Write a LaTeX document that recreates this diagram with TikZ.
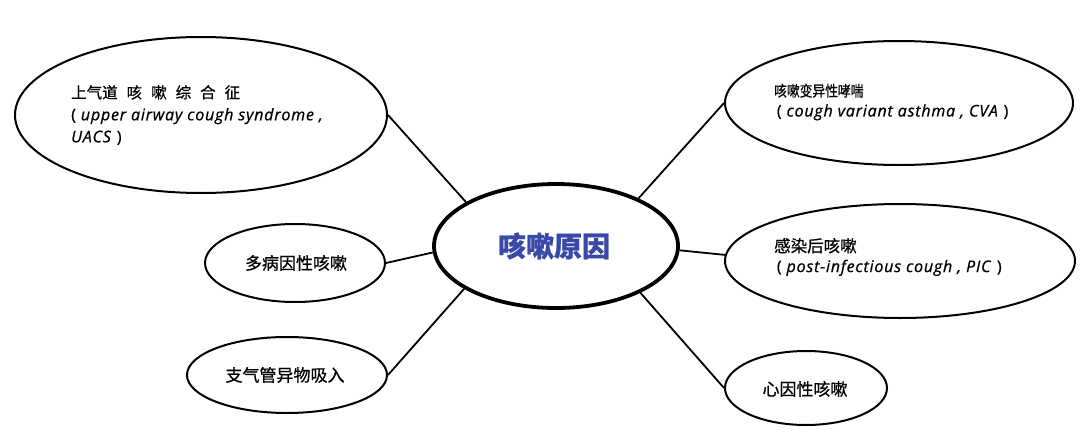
\documentclass[tikz,border=0pt]{standalone}
\usepackage{fontspec}
\usetikzlibrary{shapes.geometric}
\setmainfont{Noto Sans CJK SC}
\newfontfamily\cjk[FakeBold=0.8]{Noto Sans CJK SC}
\newfontfamily\cjkn[FakeStretch=0.85,FakeBold=0.8]{Noto Sans CJK SC}
\newfontfamily\lat[LetterSpace=5,FakeBold=0.8]{Open Sans}
\newcommand{\en}{\lat\itshape}
\definecolor{titleblue}{RGB}{58,72,168}
\begin{document}
\begin{tikzpicture}[x=1pt,y=-1pt,
  bub/.style={draw=black, line width=2pt, ellipse, inner sep=0pt},
  link/.style={draw=black, line width=1.8pt},
  txt/.style={align=left, inner sep=0pt, anchor=west},
  lbl/.style={inner sep=0pt, font=\cjk\fontsize{17}{20}\selectfont}
]
\useasboundingbox (0,0) rectangle (1080,439);

\node[bub, minimum width=372pt, minimum height=156pt] (uacs) at (201,115) {};
\node[bub, minimum width=348pt, minimum height=124pt] (cva) at (899,103) {};
\node[bub, minimum width=350pt, minimum height=114pt] (pic) at (900,261) {};
\node[bub, line width=3.8pt, minimum width=244pt, minimum height=124pt] (c) at (556,246) {};
\node[bub, minimum width=180pt, minimum height=78pt] (multi) at (295,263) {};
\node[bub, minimum width=200pt, minimum height=76pt] (fb) at (287,375) {};
\node[bub, minimum width=162pt, minimum height=74pt] (psy) at (806,388) {};

\draw[link] (uacs.east) -- (c.154);
\draw[link] (multi.east) -- (c.183);
\draw[link] (fb.east) -- (c.205);
\draw[link] (cva.west) -- (c.30);
\draw[link] (pic.178) -- (c.358);
\draw[link] (psy.west) -- (c.331);

\node[inner sep=0pt, text=titleblue, font=\cjk\bfseries\fontsize{28}{30}\selectfont] (ct) at (554,246) {咳嗽原因};

\node[txt, font=\cjk\fontsize{15.5}{22}\selectfont] (t1) at (71,115)
  {上气道\hspace{9pt}咳\hspace{9pt}嗽\hspace{9pt}综\hspace{9pt}合\hspace{9pt}征\\
   {\en\fontsize{16}{22}\selectfont\textup{(} upper airway cough syndrome ,}\\
   {\en\fontsize{16}{22}\selectfont UACS \textup{)}}};

\node[txt, font=\cjkn\fontsize{15}{20}\selectfont] (t2) at (774,102)
  {咳嗽变异性哮喘\\
   {\en\fontsize{16}{20}\selectfont\,\textup{(} cough variant asthma , CVA \textup{)}}};

\node[txt, font=\cjk\fontsize{16.5}{20}\selectfont] (t3) at (774,257)
  {感染后咳嗽\\
   {\en\fontsize{16}{20}\selectfont\,\textup{(} post-infectious cough , PIC \textup{)}}};

\node[lbl] (t4) at (296,263) {多病因性咳嗽};
\node[lbl] (t5) at (285,375) {支气管异物吸入};
\node[lbl] (t6) at (805,389) {心因性咳嗽};
\end{tikzpicture}
\end{document}
